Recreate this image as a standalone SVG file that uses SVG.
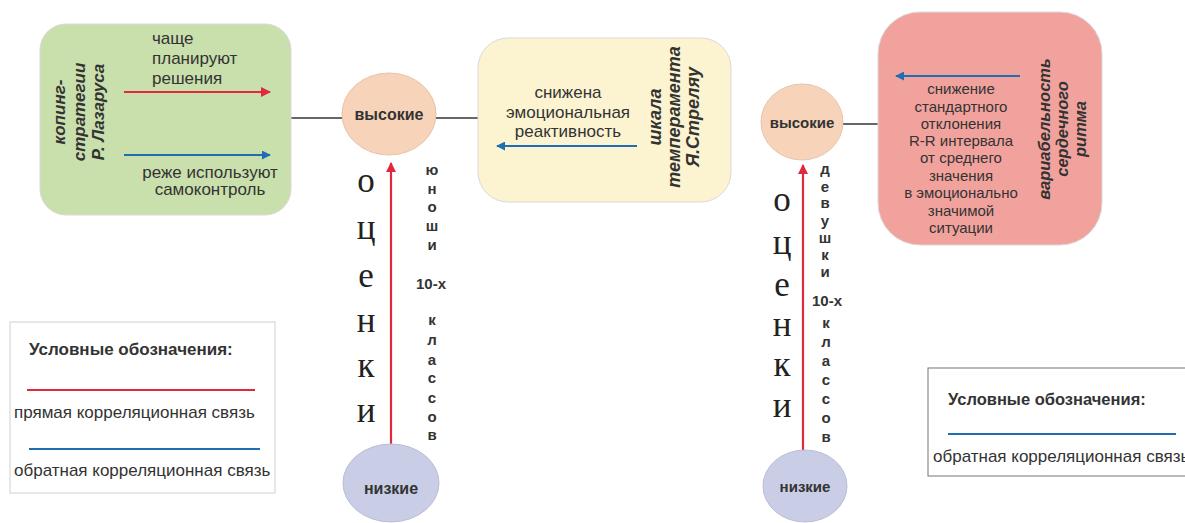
<svg xmlns="http://www.w3.org/2000/svg" width="1185" height="523" viewBox="0 0 1185 523">
<defs>
<marker id="ah-red" viewBox="0 0 10 10" refX="9" refY="5" markerWidth="10" markerHeight="10" markerUnits="userSpaceOnUse" orient="auto"><path d="M0,0 L10,5 L0,10 z" fill="#e1283d"/></marker>
<marker id="ah-blue" viewBox="0 0 10 10" refX="9" refY="5" markerWidth="9" markerHeight="9" markerUnits="userSpaceOnUse" orient="auto"><path d="M0,0 L10,5 L0,10 z" fill="#1f6db3"/></marker>
<style>
text{font-family:"Liberation Sans",Arial,sans-serif;fill:#333;}
.t{font-size:17px;}
.tc{font-size:17px;text-anchor:middle;}
.ts{font-size:15px;text-anchor:middle;}
.vi{font-weight:bold;font-style:italic;text-anchor:middle;}
.b{font-weight:bold;text-anchor:middle;}
.ser{font-family:"Liberation Serif","Times New Roman",serif;font-size:35px;text-anchor:middle;fill:#222;}
.sm{font-weight:bold;font-size:15px;text-anchor:middle;}
.box{stroke:#d9d9d9;stroke-width:1;}
.conn{stroke:#333;stroke-width:1.6;fill:none;}
.red{stroke:#e1283d;stroke-width:2.2;fill:none;}
.blue{stroke:#1f6db3;stroke-width:2.2;fill:none;}
</style>
</defs>

<g id="connectors">
<line class="conn" x1="291" y1="118" x2="343" y2="118"/>
<line class="conn" x1="436" y1="118" x2="478" y2="118"/>
<line class="conn" x1="843" y1="124" x2="879" y2="124"/>
<line class="red" x1="391" y1="445" x2="391" y2="163" marker-end="url(#ah-red)"/>
<line class="red" x1="803" y1="451" x2="803" y2="165" marker-end="url(#ah-red)"/>
</g>

<g id="coping">
<rect class="box" x="40" y="24" width="251" height="191" rx="26" fill="#c9dfac"/>
<text class="vi" font-size="17" transform="rotate(-90)" x="-112"><tspan x="-112" y="65">копинг-</tspan><tspan x="-112" y="85">стратегии</tspan><tspan x="-112" y="104">Р. Лазаруса</tspan></text>
<text class="t"><tspan x="152" y="44">чаще</tspan><tspan x="152" y="64">планируют</tspan><tspan x="152" y="84">решения</tspan></text>
<line class="red" x1="124" y1="92" x2="270" y2="92" marker-end="url(#ah-red)"/>
<line class="blue" x1="124" y1="155" x2="270" y2="155" marker-end="url(#ah-blue)"/>
<text class="tc"><tspan x="210" y="178">реже используют</tspan><tspan x="210" y="195">самоконтроль</tspan></text>
</g>

<g id="high1">
<ellipse cx="389" cy="114" rx="47" ry="41" fill="#f7d3b9" stroke="#e6c4ab"/>
<text class="b" font-size="16" x="389" y="120">высокие</text>
</g>

<g id="low1">
<ellipse cx="391" cy="483" rx="48" ry="39" fill="#c9cde6" stroke="#b9bdd6"/>
<text class="b" font-size="16" x="391" y="494">низкие</text>
</g>

<g id="label1">
<text class="ser"><tspan x="366" y="192">о</tspan><tspan x="366" y="239">ц</tspan><tspan x="366" y="287">е</tspan><tspan x="366" y="332">н</tspan><tspan x="366" y="377">к</tspan><tspan x="366" y="422">и</tspan></text>
<text class="sm"><tspan x="432" y="175">ю</tspan><tspan x="432" y="194">н</tspan><tspan x="432" y="212">о</tspan><tspan x="432" y="231">ш</tspan><tspan x="432" y="250">и</tspan><tspan x="431" y="289">10-х</tspan><tspan x="432" y="325">к</tspan><tspan x="432" y="345">л</tspan><tspan x="432" y="365">а</tspan><tspan x="432" y="383">с</tspan><tspan x="432" y="403">с</tspan><tspan x="432" y="422">о</tspan><tspan x="432" y="440">в</tspan></text>
</g>

<g id="strelau">
<rect class="box" x="478" y="38" width="253" height="164" rx="30" fill="#fcf3d0"/>
<text class="tc" font-size="18"><tspan x="568" y="98">снижена</tspan><tspan x="568" y="118">эмоциональная</tspan><tspan x="568" y="137">реактивность</tspan></text>
<line class="blue" x1="637" y1="146" x2="497" y2="146" marker-end="url(#ah-blue)"/>
<text class="vi" font-size="18" transform="rotate(-90)"><tspan x="-117" y="661">шкала</tspan><tspan x="-117" y="680">темперамента</tspan><tspan x="-117" y="699">Я.Стреляу</tspan></text>
</g>

<g id="high2">
<ellipse cx="802" cy="122" rx="41" ry="38" fill="#f7d3b9" stroke="#e6c4ab"/>
<text class="b" font-size="15" x="802" y="128">высокие</text>
</g>

<g id="low2">
<ellipse cx="805" cy="486" rx="42" ry="36" fill="#c9cde6" stroke="#b9bdd6"/>
<text class="b" font-size="15" x="805" y="492">низкие</text>
</g>

<g id="label2">
<text class="ser"><tspan x="782" y="211">о</tspan><tspan x="782" y="254">ц</tspan><tspan x="782" y="296">е</tspan><tspan x="782" y="336">н</tspan><tspan x="782" y="376">к</tspan><tspan x="782" y="417">и</tspan></text>
<text class="sm"><tspan x="825" y="174">д</tspan><tspan x="825" y="192">е</tspan><tspan x="825" y="208">в</tspan><tspan x="825" y="226">у</tspan><tspan x="825" y="243">ш</tspan><tspan x="825" y="260">к</tspan><tspan x="825" y="277">и</tspan><tspan x="827" y="306">10-х</tspan><tspan x="826" y="328">к</tspan><tspan x="826" y="347">л</tspan><tspan x="826" y="366">а</tspan><tspan x="826" y="385">с</tspan><tspan x="826" y="404">с</tspan><tspan x="826" y="423">о</tspan><tspan x="826" y="442">в</tspan></text>
</g>

<g id="hrv">
<rect class="box" x="878" y="12" width="224" height="233" rx="42" fill="#f2a29c"/>
<line class="blue" x1="1020" y1="76" x2="896" y2="76" marker-end="url(#ah-blue)"/>
<text class="ts"><tspan x="961" y="94">снижение</tspan><tspan x="961" y="112">стандартного</tspan><tspan x="961" y="129">отклонения</tspan><tspan x="961" y="146">R-R интервала</tspan><tspan x="961" y="163">от среднего</tspan><tspan x="961" y="181">значения</tspan><tspan x="961" y="198">в эмоционально</tspan><tspan x="961" y="216">значимой</tspan><tspan x="961" y="233">ситуации</tspan></text>
<text class="vi" font-size="16.5" transform="rotate(-90)"><tspan x="-129" y="1050">вариабельность</tspan><tspan x="-129" y="1068">сердечного</tspan><tspan x="-129" y="1086">ритма</tspan></text>
</g>

<g id="legend1">
<rect x="10" y="322" width="265" height="171" fill="#fff" stroke="#d0d0d0"/>
<text x="29" y="355" font-size="17" font-weight="bold">Условные обозначения:</text>
<line x1="27" y1="390" x2="255" y2="390" stroke="#e1283d" stroke-width="2"/>
<text x="14" y="418" font-size="17">прямая корреляционная связь</text>
<line x1="29" y1="449" x2="260" y2="449" stroke="#1f6db3" stroke-width="2"/>
<text x="14" y="476" font-size="17">обратная корреляционная связь</text>
</g>

<g id="legend2">
<rect x="928" y="368" width="270" height="108" fill="#fff" stroke="#777"/>
<text x="948" y="405" font-size="16.5" font-weight="bold">Условные обозначения:</text>
<line x1="948" y1="434" x2="1176" y2="434" stroke="#1f6db3" stroke-width="2"/>
<text x="933" y="462" font-size="17">обратная корреляционная связь</text>
</g>
</svg>
